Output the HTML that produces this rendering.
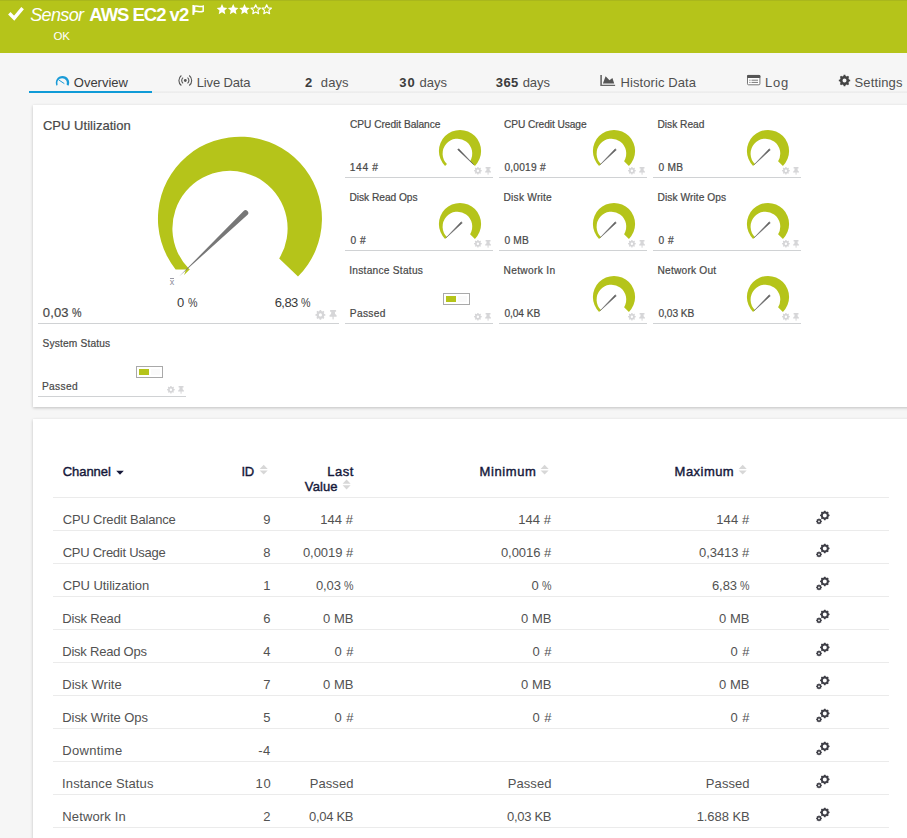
<!DOCTYPE html>
<html><head><meta charset="utf-8"><title>Sensor AWS EC2 v2</title>
<style>
html,body{margin:0;padding:0}
body{width:907px;height:838px;overflow:hidden;background:#f6f6f6;font-family:"Liberation Sans", sans-serif;position:relative}
.t{position:absolute;white-space:pre}
#hdr{position:absolute;left:0;top:0;width:907px;height:53px;background:#b5c41a;border-top:1px solid #a9b71c;box-sizing:border-box}
#tabline{position:absolute;left:30px;top:91px;width:877px;height:2px;background:linear-gradient(#f0f0f0,#ebebeb)}
#tabact{position:absolute;left:29px;top:91px;width:123px;height:2px;background:#0f9bd7}
.panel{position:absolute;left:33px;width:900px;background:#fff;box-shadow:0 1px 3px rgba(0,0,0,.22)}
#p1{top:105px;height:302px}
#p2{top:419px;height:440px}
.ul{position:absolute;height:1px;background:#d0d2d4}
.rl{position:absolute;left:53px;width:836px;height:1px;background:#ebebeb}
.sb{position:absolute;width:27px;height:12px;box-sizing:border-box;border:1px solid #a9a9a9;background:#fff}
.sb i{position:absolute;left:2px;top:2px;width:10px;height:6px;background:#b5c41a}
.sb b{position:absolute;left:14px;top:2px;width:9px;height:6px;background:#fafafa}
svg{position:absolute;left:0;top:0}
</style></head><body>
<div id="hdr"></div>
<div id="tabline"></div><div id="tabact"></div>
<div class="panel" id="p1"></div>
<div class="panel" id="p2"></div>
<div class="ul" style="left:38px;top:323px;width:301px"></div><div class="ul" style="left:345px;top:177px;width:148px"></div><div class="ul" style="left:345px;top:250px;width:148px"></div><div class="ul" style="left:345px;top:323px;width:148px"></div><div class="ul" style="left:499px;top:177px;width:148px"></div><div class="ul" style="left:499px;top:250px;width:148px"></div><div class="ul" style="left:499px;top:323px;width:148px"></div><div class="ul" style="left:653px;top:177px;width:148px"></div><div class="ul" style="left:653px;top:250px;width:148px"></div><div class="ul" style="left:653px;top:323px;width:148px"></div><div class="ul" style="left:38px;top:396px;width:148px"></div>
<div class="rl" style="top:497px"></div><div class="rl" style="top:530px"></div><div class="rl" style="top:563px"></div><div class="rl" style="top:596px"></div><div class="rl" style="top:629px"></div><div class="rl" style="top:662px"></div><div class="rl" style="top:695px"></div><div class="rl" style="top:728px"></div><div class="rl" style="top:761px"></div><div class="rl" style="top:794px"></div><div class="rl" style="top:827px"></div>
<div class="sb" style="left:443px;top:293px"><i></i><b></b></div><div class="sb" style="left:136px;top:366px"><i></i><b></b></div>
<svg width="907" height="838" viewBox="0 0 907 838">
<path d="M9.3 13.3 L14.2 18.2 L22.6 8.2" fill="none" stroke="#fff" stroke-width="3.4"/><path d="M193.4 5 V14.9" stroke="#fff" stroke-width="2"/><path d="M194.6 6.3 C197 5.2 199 7.6 203.2 6.1 V11.3 C199 12.8 197 10.4 194.6 11.6 Z" fill="none" stroke="#fff" stroke-width="1.5"/><polygon points="222.00,4.10 223.55,7.57 227.33,7.97 224.50,10.51 225.29,14.23 222.00,12.33 218.71,14.23 219.50,10.51 216.67,7.97 220.45,7.57" fill="#fff"/><polygon points="233.20,4.10 234.75,7.57 238.53,7.97 235.70,10.51 236.49,14.23 233.20,12.33 229.91,14.23 230.70,10.51 227.87,7.97 231.65,7.57" fill="#fff"/><polygon points="244.50,4.10 246.05,7.57 249.83,7.97 247.00,10.51 247.79,14.23 244.50,12.33 241.21,14.23 242.00,10.51 239.17,7.97 242.95,7.57" fill="#fff"/><polygon points="255.70,4.80 257.05,7.84 260.36,8.19 257.89,10.41 258.58,13.66 255.70,12.00 252.82,13.66 253.51,10.41 251.04,8.19 254.35,7.84" fill="none" stroke="#fff" stroke-width="1.2" stroke-linejoin="round"/><polygon points="266.70,4.80 268.05,7.84 271.36,8.19 268.89,10.41 269.58,13.66 266.70,12.00 263.82,13.66 264.51,10.41 262.04,8.19 265.35,7.84" fill="none" stroke="#fff" stroke-width="1.2" stroke-linejoin="round"/>
<path d="M56.58 85.75 A6.7 6.7 0 1 1 68.42 85.75 L66.69 84.82 A4.9 4.9 0 1 0 57.57 84.90 Z" fill="#1a9bd7"/><path d="M58.9 80 L64 83.4" stroke="#1a9bd7" stroke-width="1" stroke-linecap="round"/><circle cx="185.3" cy="80.5" r="1.4" fill="#555"/><path d="M187.52 77.66 A3.6 3.6 0 0 1 187.52 83.34" fill="none" stroke="#555" stroke-width="1.1"/><path d="M183.08 77.66 A3.6 3.6 0 0 0 183.08 83.34" fill="none" stroke="#555" stroke-width="1.1"/><path d="M189.24 75.46 A6.4 6.4 0 0 1 189.24 85.54" fill="none" stroke="#555" stroke-width="1.1"/><path d="M181.36 75.46 A6.4 6.4 0 0 0 181.36 85.54" fill="none" stroke="#555" stroke-width="1.1"/><path d="M600.3 74.9h1.6v9.9h13.2v1.1h-14.8z" fill="#666"/><path d="M602.9 83.6 L605.6 76.2 L609.5 80.3 L612.4 77.9 L614.2 83.6 Z" fill="#555"/><rect x="747.5" y="75.4" width="12.4" height="9.4" rx="1" fill="#fff" stroke="#777" stroke-width="1"/><rect x="747" y="74.9" width="13.4" height="3.2" rx="1" fill="#555"/><path d="M749.3 80.2h1.2M751.5 80.2h6.5M749.3 82.4h1.2M751.5 82.4h6.5" stroke="#777" stroke-width="1"/><path d="M848.75 78.74 L848.97 79.43 L850.18 79.64 L850.18 81.36 L848.97 81.57 L848.75 82.26 L848.42 82.90 L849.13 83.91 L847.91 85.13 L846.90 84.42 L846.26 84.75 L845.57 84.97 L845.36 86.18 L843.64 86.18 L843.43 84.97 L842.74 84.75 L842.10 84.42 L841.09 85.13 L839.87 83.91 L840.58 82.90 L840.25 82.26 L840.03 81.57 L838.82 81.36 L838.82 79.64 L840.03 79.43 L840.25 78.74 L840.58 78.10 L839.87 77.09 L841.09 75.87 L842.10 76.58 L842.74 76.25 L843.43 76.03 L843.64 74.82 L845.36 74.82 L845.57 76.03 L846.26 76.25 L846.90 76.58 L847.91 75.87 L849.13 77.09 L848.42 78.10Z M846.50 80.50 A2.0 2.0 0 1 0 842.50 80.50 A2.0 2.0 0 1 0 846.50 80.50Z" fill="#444" fill-rule="evenodd"/>
<g transform="translate(240 218.6) scale(1) translate(-240 -218.6)"><path d="M175.6 269.5 A82 82 0 1 1 298 276.6 L279.2 258.4 A57.6 57.6 0 1 0 189.6 269.5 Z" fill="#b5c41a"/><path d="M184.1 275 L189.9 269.3 L186.3 268.7 Z" fill="#b5c41a"/></g><path d="M178.8 276.8 L243.6 210.9 A2.8 2.8 0 0 1 247.6 214.8 Z" fill="#777"/><g transform="translate(460 151) scale(0.2573170731707317) translate(-240 -218.6)"><path d="M182 276.6 A82 82 0 1 1 298 276.6 L279.2 258.4 A57.6 57.6 0 1 0 189.3 269.3 Z" fill="#b5c41a"/></g><path d="M473.6 164.6 L457.7 149.7 L458.7 148.7 Z" fill="#5a5a5a" stroke="#5a5a5a" stroke-width="0.5" stroke-linejoin="round"/><g transform="translate(614 151) scale(0.2573170731707317) translate(-240 -218.6)"><path d="M182 276.6 A82 82 0 1 1 298 276.6 L279.2 258.4 A57.6 57.6 0 1 0 189.3 269.3 Z" fill="#b5c41a"/></g><path d="M600.1 164.8 L615.2 148.8 L616.3 149.9 Z" fill="#666" stroke="#666" stroke-width="0.5" stroke-linejoin="round"/><g transform="translate(768 151) scale(0.2573170731707317) translate(-240 -218.6)"><path d="M182 276.6 A82 82 0 1 1 298 276.6 L279.2 258.4 A57.6 57.6 0 1 0 189.3 269.3 Z" fill="#b5c41a"/></g><path d="M754.1 164.8 L769.2 148.8 L770.3 149.9 Z" fill="#666" stroke="#666" stroke-width="0.5" stroke-linejoin="round"/><g transform="translate(460 224) scale(0.2573170731707317) translate(-240 -218.6)"><path d="M182 276.6 A82 82 0 1 1 298 276.6 L279.2 258.4 A57.6 57.6 0 1 0 189.3 269.3 Z" fill="#b5c41a"/></g><path d="M446.1 237.8 L461.2 221.8 L462.3 222.9 Z" fill="#666" stroke="#666" stroke-width="0.5" stroke-linejoin="round"/><g transform="translate(614 224) scale(0.2573170731707317) translate(-240 -218.6)"><path d="M182 276.6 A82 82 0 1 1 298 276.6 L279.2 258.4 A57.6 57.6 0 1 0 189.3 269.3 Z" fill="#b5c41a"/></g><path d="M600.1 237.8 L615.2 221.8 L616.3 222.9 Z" fill="#666" stroke="#666" stroke-width="0.5" stroke-linejoin="round"/><g transform="translate(768 224) scale(0.2573170731707317) translate(-240 -218.6)"><path d="M182 276.6 A82 82 0 1 1 298 276.6 L279.2 258.4 A57.6 57.6 0 1 0 189.3 269.3 Z" fill="#b5c41a"/></g><path d="M754.1 237.8 L769.2 221.8 L770.3 222.9 Z" fill="#666" stroke="#666" stroke-width="0.5" stroke-linejoin="round"/><g transform="translate(614 297) scale(0.2573170731707317) translate(-240 -218.6)"><path d="M182 276.6 A82 82 0 1 1 298 276.6 L279.2 258.4 A57.6 57.6 0 1 0 189.3 269.3 Z" fill="#b5c41a"/></g><path d="M600.1 310.8 L615.2 294.8 L616.3 295.9 Z" fill="#666" stroke="#666" stroke-width="0.5" stroke-linejoin="round"/><g transform="translate(768 297) scale(0.2573170731707317) translate(-240 -218.6)"><path d="M182 276.6 A82 82 0 1 1 298 276.6 L279.2 258.4 A57.6 57.6 0 1 0 189.3 269.3 Z" fill="#b5c41a"/></g><path d="M754.1 310.8 L769.2 294.8 L770.3 295.9 Z" fill="#666" stroke="#666" stroke-width="0.5" stroke-linejoin="round"/><path d="M324.00 313.41 L324.19 313.99 L325.34 314.15 L325.34 315.65 L324.19 315.81 L324.00 316.39 L323.73 316.94 L324.43 317.86 L323.36 318.93 L322.44 318.23 L321.89 318.50 L321.31 318.69 L321.15 319.84 L319.65 319.84 L319.49 318.69 L318.91 318.50 L318.36 318.23 L317.44 318.93 L316.37 317.86 L317.07 316.94 L316.80 316.39 L316.61 315.81 L315.46 315.65 L315.46 314.15 L316.61 313.99 L316.80 313.41 L317.07 312.86 L316.37 311.94 L317.44 310.87 L318.36 311.57 L318.91 311.30 L319.49 311.11 L319.65 309.96 L321.15 309.96 L321.31 311.11 L321.89 311.30 L322.44 311.57 L323.36 310.87 L324.43 311.94 L323.73 312.86Z M322.00 314.90 A1.6 1.6 0 1 0 318.80 314.90 A1.6 1.6 0 1 0 322.00 314.90Z" fill="#d6d6d8" fill-rule="evenodd"/><path transform="translate(329.4 310) scale(0.019140625)" d="M298.028 214.267L285.793 96H328c13.255 0 24-10.745 24-24V24c0-13.255-10.745-24-24-24H56C42.745 0 32 10.745 32 24v48c0 13.255 10.745 24 24 24h42.207L85.972 214.267C37.465 236.820 0 277.261 0 328c0 13.255 10.745 24 24 24h136v104.007c0 1.242.289 2.467.845 3.578l24 48c2.941 5.882 11.364 5.893 14.311 0l24-48a8.008 8.008 0 0 0 .845-3.578V352h136c13.255 0 24-10.745 24-24-.001-51.183-37.983-91.420-85.973-113.733z" fill="#d6d6d8"/><path d="M480.67 169.55 L480.82 170.00 L481.71 170.12 L481.71 171.28 L480.82 171.40 L480.67 171.85 L480.46 172.27 L481.00 172.98 L480.18 173.80 L479.47 173.26 L479.05 173.47 L478.60 173.62 L478.48 174.51 L477.32 174.51 L477.20 173.62 L476.75 173.47 L476.33 173.26 L475.62 173.80 L474.80 172.98 L475.34 172.27 L475.13 171.85 L474.98 171.40 L474.09 171.28 L474.09 170.12 L474.98 170.00 L475.13 169.55 L475.34 169.13 L474.80 168.42 L475.62 167.60 L476.33 168.14 L476.75 167.93 L477.20 167.78 L477.32 166.89 L478.48 166.89 L478.60 167.78 L479.05 167.93 L479.47 168.14 L480.18 167.60 L481.00 168.42 L480.46 169.13Z M479.10 170.70 A1.2 1.2 0 1 0 476.70 170.70 A1.2 1.2 0 1 0 479.10 170.70Z" fill="#d6d6d8" fill-rule="evenodd"/><path transform="translate(485.1 167.1) scale(0.0154296875)" d="M298.028 214.267L285.793 96H328c13.255 0 24-10.745 24-24V24c0-13.255-10.745-24-24-24H56C42.745 0 32 10.745 32 24v48c0 13.255 10.745 24 24 24h42.207L85.972 214.267C37.465 236.820 0 277.261 0 328c0 13.255 10.745 24 24 24h136v104.007c0 1.242.289 2.467.845 3.578l24 48c2.941 5.882 11.364 5.893 14.311 0l24-48a8.008 8.008 0 0 0 .845-3.578V352h136c13.255 0 24-10.745 24-24-.001-51.183-37.983-91.420-85.973-113.733z" fill="#d6d6d8"/><path d="M480.67 242.55 L480.82 243.00 L481.71 243.12 L481.71 244.28 L480.82 244.40 L480.67 244.85 L480.46 245.27 L481.00 245.98 L480.18 246.80 L479.47 246.26 L479.05 246.47 L478.60 246.62 L478.48 247.51 L477.32 247.51 L477.20 246.62 L476.75 246.47 L476.33 246.26 L475.62 246.80 L474.80 245.98 L475.34 245.27 L475.13 244.85 L474.98 244.40 L474.09 244.28 L474.09 243.12 L474.98 243.00 L475.13 242.55 L475.34 242.13 L474.80 241.42 L475.62 240.60 L476.33 241.14 L476.75 240.93 L477.20 240.78 L477.32 239.89 L478.48 239.89 L478.60 240.78 L479.05 240.93 L479.47 241.14 L480.18 240.60 L481.00 241.42 L480.46 242.13Z M479.10 243.70 A1.2 1.2 0 1 0 476.70 243.70 A1.2 1.2 0 1 0 479.10 243.70Z" fill="#d6d6d8" fill-rule="evenodd"/><path transform="translate(485.1 240.1) scale(0.0154296875)" d="M298.028 214.267L285.793 96H328c13.255 0 24-10.745 24-24V24c0-13.255-10.745-24-24-24H56C42.745 0 32 10.745 32 24v48c0 13.255 10.745 24 24 24h42.207L85.972 214.267C37.465 236.820 0 277.261 0 328c0 13.255 10.745 24 24 24h136v104.007c0 1.242.289 2.467.845 3.578l24 48c2.941 5.882 11.364 5.893 14.311 0l24-48a8.008 8.008 0 0 0 .845-3.578V352h136c13.255 0 24-10.745 24-24-.001-51.183-37.983-91.420-85.973-113.733z" fill="#d6d6d8"/><path d="M480.67 315.55 L480.82 316.00 L481.71 316.12 L481.71 317.28 L480.82 317.40 L480.67 317.85 L480.46 318.27 L481.00 318.98 L480.18 319.80 L479.47 319.26 L479.05 319.47 L478.60 319.62 L478.48 320.51 L477.32 320.51 L477.20 319.62 L476.75 319.47 L476.33 319.26 L475.62 319.80 L474.80 318.98 L475.34 318.27 L475.13 317.85 L474.98 317.40 L474.09 317.28 L474.09 316.12 L474.98 316.00 L475.13 315.55 L475.34 315.13 L474.80 314.42 L475.62 313.60 L476.33 314.14 L476.75 313.93 L477.20 313.78 L477.32 312.89 L478.48 312.89 L478.60 313.78 L479.05 313.93 L479.47 314.14 L480.18 313.60 L481.00 314.42 L480.46 315.13Z M479.10 316.70 A1.2 1.2 0 1 0 476.70 316.70 A1.2 1.2 0 1 0 479.10 316.70Z" fill="#d6d6d8" fill-rule="evenodd"/><path transform="translate(485.1 313.1) scale(0.0154296875)" d="M298.028 214.267L285.793 96H328c13.255 0 24-10.745 24-24V24c0-13.255-10.745-24-24-24H56C42.745 0 32 10.745 32 24v48c0 13.255 10.745 24 24 24h42.207L85.972 214.267C37.465 236.820 0 277.261 0 328c0 13.255 10.745 24 24 24h136v104.007c0 1.242.289 2.467.845 3.578l24 48c2.941 5.882 11.364 5.893 14.311 0l24-48a8.008 8.008 0 0 0 .845-3.578V352h136c13.255 0 24-10.745 24-24-.001-51.183-37.983-91.420-85.973-113.733z" fill="#d6d6d8"/><path d="M634.67 169.55 L634.82 170.00 L635.71 170.12 L635.71 171.28 L634.82 171.40 L634.67 171.85 L634.46 172.27 L635.00 172.98 L634.18 173.80 L633.47 173.26 L633.05 173.47 L632.60 173.62 L632.48 174.51 L631.32 174.51 L631.20 173.62 L630.75 173.47 L630.33 173.26 L629.62 173.80 L628.80 172.98 L629.34 172.27 L629.13 171.85 L628.98 171.40 L628.09 171.28 L628.09 170.12 L628.98 170.00 L629.13 169.55 L629.34 169.13 L628.80 168.42 L629.62 167.60 L630.33 168.14 L630.75 167.93 L631.20 167.78 L631.32 166.89 L632.48 166.89 L632.60 167.78 L633.05 167.93 L633.47 168.14 L634.18 167.60 L635.00 168.42 L634.46 169.13Z M633.10 170.70 A1.2 1.2 0 1 0 630.70 170.70 A1.2 1.2 0 1 0 633.10 170.70Z" fill="#d6d6d8" fill-rule="evenodd"/><path transform="translate(639.1 167.1) scale(0.0154296875)" d="M298.028 214.267L285.793 96H328c13.255 0 24-10.745 24-24V24c0-13.255-10.745-24-24-24H56C42.745 0 32 10.745 32 24v48c0 13.255 10.745 24 24 24h42.207L85.972 214.267C37.465 236.820 0 277.261 0 328c0 13.255 10.745 24 24 24h136v104.007c0 1.242.289 2.467.845 3.578l24 48c2.941 5.882 11.364 5.893 14.311 0l24-48a8.008 8.008 0 0 0 .845-3.578V352h136c13.255 0 24-10.745 24-24-.001-51.183-37.983-91.420-85.973-113.733z" fill="#d6d6d8"/><path d="M634.67 242.55 L634.82 243.00 L635.71 243.12 L635.71 244.28 L634.82 244.40 L634.67 244.85 L634.46 245.27 L635.00 245.98 L634.18 246.80 L633.47 246.26 L633.05 246.47 L632.60 246.62 L632.48 247.51 L631.32 247.51 L631.20 246.62 L630.75 246.47 L630.33 246.26 L629.62 246.80 L628.80 245.98 L629.34 245.27 L629.13 244.85 L628.98 244.40 L628.09 244.28 L628.09 243.12 L628.98 243.00 L629.13 242.55 L629.34 242.13 L628.80 241.42 L629.62 240.60 L630.33 241.14 L630.75 240.93 L631.20 240.78 L631.32 239.89 L632.48 239.89 L632.60 240.78 L633.05 240.93 L633.47 241.14 L634.18 240.60 L635.00 241.42 L634.46 242.13Z M633.10 243.70 A1.2 1.2 0 1 0 630.70 243.70 A1.2 1.2 0 1 0 633.10 243.70Z" fill="#d6d6d8" fill-rule="evenodd"/><path transform="translate(639.1 240.1) scale(0.0154296875)" d="M298.028 214.267L285.793 96H328c13.255 0 24-10.745 24-24V24c0-13.255-10.745-24-24-24H56C42.745 0 32 10.745 32 24v48c0 13.255 10.745 24 24 24h42.207L85.972 214.267C37.465 236.820 0 277.261 0 328c0 13.255 10.745 24 24 24h136v104.007c0 1.242.289 2.467.845 3.578l24 48c2.941 5.882 11.364 5.893 14.311 0l24-48a8.008 8.008 0 0 0 .845-3.578V352h136c13.255 0 24-10.745 24-24-.001-51.183-37.983-91.420-85.973-113.733z" fill="#d6d6d8"/><path d="M634.67 315.55 L634.82 316.00 L635.71 316.12 L635.71 317.28 L634.82 317.40 L634.67 317.85 L634.46 318.27 L635.00 318.98 L634.18 319.80 L633.47 319.26 L633.05 319.47 L632.60 319.62 L632.48 320.51 L631.32 320.51 L631.20 319.62 L630.75 319.47 L630.33 319.26 L629.62 319.80 L628.80 318.98 L629.34 318.27 L629.13 317.85 L628.98 317.40 L628.09 317.28 L628.09 316.12 L628.98 316.00 L629.13 315.55 L629.34 315.13 L628.80 314.42 L629.62 313.60 L630.33 314.14 L630.75 313.93 L631.20 313.78 L631.32 312.89 L632.48 312.89 L632.60 313.78 L633.05 313.93 L633.47 314.14 L634.18 313.60 L635.00 314.42 L634.46 315.13Z M633.10 316.70 A1.2 1.2 0 1 0 630.70 316.70 A1.2 1.2 0 1 0 633.10 316.70Z" fill="#d6d6d8" fill-rule="evenodd"/><path transform="translate(639.1 313.1) scale(0.0154296875)" d="M298.028 214.267L285.793 96H328c13.255 0 24-10.745 24-24V24c0-13.255-10.745-24-24-24H56C42.745 0 32 10.745 32 24v48c0 13.255 10.745 24 24 24h42.207L85.972 214.267C37.465 236.820 0 277.261 0 328c0 13.255 10.745 24 24 24h136v104.007c0 1.242.289 2.467.845 3.578l24 48c2.941 5.882 11.364 5.893 14.311 0l24-48a8.008 8.008 0 0 0 .845-3.578V352h136c13.255 0 24-10.745 24-24-.001-51.183-37.983-91.420-85.973-113.733z" fill="#d6d6d8"/><path d="M788.67 169.55 L788.82 170.00 L789.71 170.12 L789.71 171.28 L788.82 171.40 L788.67 171.85 L788.46 172.27 L789.00 172.98 L788.18 173.80 L787.47 173.26 L787.05 173.47 L786.60 173.62 L786.48 174.51 L785.32 174.51 L785.20 173.62 L784.75 173.47 L784.33 173.26 L783.62 173.80 L782.80 172.98 L783.34 172.27 L783.13 171.85 L782.98 171.40 L782.09 171.28 L782.09 170.12 L782.98 170.00 L783.13 169.55 L783.34 169.13 L782.80 168.42 L783.62 167.60 L784.33 168.14 L784.75 167.93 L785.20 167.78 L785.32 166.89 L786.48 166.89 L786.60 167.78 L787.05 167.93 L787.47 168.14 L788.18 167.60 L789.00 168.42 L788.46 169.13Z M787.10 170.70 A1.2 1.2 0 1 0 784.70 170.70 A1.2 1.2 0 1 0 787.10 170.70Z" fill="#d6d6d8" fill-rule="evenodd"/><path transform="translate(793.1 167.1) scale(0.0154296875)" d="M298.028 214.267L285.793 96H328c13.255 0 24-10.745 24-24V24c0-13.255-10.745-24-24-24H56C42.745 0 32 10.745 32 24v48c0 13.255 10.745 24 24 24h42.207L85.972 214.267C37.465 236.820 0 277.261 0 328c0 13.255 10.745 24 24 24h136v104.007c0 1.242.289 2.467.845 3.578l24 48c2.941 5.882 11.364 5.893 14.311 0l24-48a8.008 8.008 0 0 0 .845-3.578V352h136c13.255 0 24-10.745 24-24-.001-51.183-37.983-91.420-85.973-113.733z" fill="#d6d6d8"/><path d="M788.67 242.55 L788.82 243.00 L789.71 243.12 L789.71 244.28 L788.82 244.40 L788.67 244.85 L788.46 245.27 L789.00 245.98 L788.18 246.80 L787.47 246.26 L787.05 246.47 L786.60 246.62 L786.48 247.51 L785.32 247.51 L785.20 246.62 L784.75 246.47 L784.33 246.26 L783.62 246.80 L782.80 245.98 L783.34 245.27 L783.13 244.85 L782.98 244.40 L782.09 244.28 L782.09 243.12 L782.98 243.00 L783.13 242.55 L783.34 242.13 L782.80 241.42 L783.62 240.60 L784.33 241.14 L784.75 240.93 L785.20 240.78 L785.32 239.89 L786.48 239.89 L786.60 240.78 L787.05 240.93 L787.47 241.14 L788.18 240.60 L789.00 241.42 L788.46 242.13Z M787.10 243.70 A1.2 1.2 0 1 0 784.70 243.70 A1.2 1.2 0 1 0 787.10 243.70Z" fill="#d6d6d8" fill-rule="evenodd"/><path transform="translate(793.1 240.1) scale(0.0154296875)" d="M298.028 214.267L285.793 96H328c13.255 0 24-10.745 24-24V24c0-13.255-10.745-24-24-24H56C42.745 0 32 10.745 32 24v48c0 13.255 10.745 24 24 24h42.207L85.972 214.267C37.465 236.820 0 277.261 0 328c0 13.255 10.745 24 24 24h136v104.007c0 1.242.289 2.467.845 3.578l24 48c2.941 5.882 11.364 5.893 14.311 0l24-48a8.008 8.008 0 0 0 .845-3.578V352h136c13.255 0 24-10.745 24-24-.001-51.183-37.983-91.420-85.973-113.733z" fill="#d6d6d8"/><path d="M788.67 315.55 L788.82 316.00 L789.71 316.12 L789.71 317.28 L788.82 317.40 L788.67 317.85 L788.46 318.27 L789.00 318.98 L788.18 319.80 L787.47 319.26 L787.05 319.47 L786.60 319.62 L786.48 320.51 L785.32 320.51 L785.20 319.62 L784.75 319.47 L784.33 319.26 L783.62 319.80 L782.80 318.98 L783.34 318.27 L783.13 317.85 L782.98 317.40 L782.09 317.28 L782.09 316.12 L782.98 316.00 L783.13 315.55 L783.34 315.13 L782.80 314.42 L783.62 313.60 L784.33 314.14 L784.75 313.93 L785.20 313.78 L785.32 312.89 L786.48 312.89 L786.60 313.78 L787.05 313.93 L787.47 314.14 L788.18 313.60 L789.00 314.42 L788.46 315.13Z M787.10 316.70 A1.2 1.2 0 1 0 784.70 316.70 A1.2 1.2 0 1 0 787.10 316.70Z" fill="#d6d6d8" fill-rule="evenodd"/><path transform="translate(793.1 313.1) scale(0.0154296875)" d="M298.028 214.267L285.793 96H328c13.255 0 24-10.745 24-24V24c0-13.255-10.745-24-24-24H56C42.745 0 32 10.745 32 24v48c0 13.255 10.745 24 24 24h42.207L85.972 214.267C37.465 236.820 0 277.261 0 328c0 13.255 10.745 24 24 24h136v104.007c0 1.242.289 2.467.845 3.578l24 48c2.941 5.882 11.364 5.893 14.311 0l24-48a8.008 8.008 0 0 0 .845-3.578V352h136c13.255 0 24-10.745 24-24-.001-51.183-37.983-91.420-85.973-113.733z" fill="#d6d6d8"/><path d="M173.67 388.55 L173.82 389.00 L174.71 389.12 L174.71 390.28 L173.82 390.40 L173.67 390.85 L173.46 391.27 L174.00 391.98 L173.18 392.80 L172.47 392.26 L172.05 392.47 L171.60 392.62 L171.48 393.51 L170.32 393.51 L170.20 392.62 L169.75 392.47 L169.33 392.26 L168.62 392.80 L167.80 391.98 L168.34 391.27 L168.13 390.85 L167.98 390.40 L167.09 390.28 L167.09 389.12 L167.98 389.00 L168.13 388.55 L168.34 388.13 L167.80 387.42 L168.62 386.60 L169.33 387.14 L169.75 386.93 L170.20 386.78 L170.32 385.89 L171.48 385.89 L171.60 386.78 L172.05 386.93 L172.47 387.14 L173.18 386.60 L174.00 387.42 L173.46 388.13Z M172.10 389.70 A1.2 1.2 0 1 0 169.70 389.70 A1.2 1.2 0 1 0 172.10 389.70Z" fill="#d6d6d8" fill-rule="evenodd"/><path transform="translate(178.1 386.1) scale(0.0154296875)" d="M298.028 214.267L285.793 96H328c13.255 0 24-10.745 24-24V24c0-13.255-10.745-24-24-24H56C42.745 0 32 10.745 32 24v48c0 13.255 10.745 24 24 24h42.207L85.972 214.267C37.465 236.820 0 277.261 0 328c0 13.255 10.745 24 24 24h136v104.007c0 1.242.289 2.467.845 3.578l24 48c2.941 5.882 11.364 5.893 14.311 0l24-48a8.008 8.008 0 0 0 .845-3.578V352h136c13.255 0 24-10.745 24-24-.001-51.183-37.983-91.420-85.973-113.733z" fill="#d6d6d8"/>
<path d="M116.2 470.8h7.6l-3.8 4z" fill="#15183a"/><path d="M259.7 469l4-4.2 4 4.2z" fill="#d7d7d7"/><path d="M259.7 470.4l4 4.2 4-4.2z" fill="#d7d7d7"/><path d="M342.6 483.8l4-4.2 4 4.2z" fill="#d7d7d7"/><path d="M342.6 485.2l4 4.2 4-4.2z" fill="#d7d7d7"/><path d="M540.6 469l4-4.2 4 4.2z" fill="#d7d7d7"/><path d="M540.6 470.4l4 4.2 4-4.2z" fill="#d7d7d7"/><path d="M738.7 469l4-4.2 4 4.2z" fill="#d7d7d7"/><path d="M738.7 470.4l4 4.2 4-4.2z" fill="#d7d7d7"/><path d="M828.54 513.85 L828.74 514.45 L829.55 514.68 L829.55 516.12 L828.74 516.35 L828.54 516.95 L828.25 517.52 L828.67 518.25 L827.65 519.27 L826.92 518.85 L826.35 519.14 L825.75 519.34 L825.52 520.15 L824.08 520.15 L823.85 519.34 L823.25 519.14 L822.68 518.85 L821.95 519.27 L820.93 518.25 L821.35 517.52 L821.06 516.95 L820.86 516.35 L820.05 516.12 L820.05 514.68 L820.86 514.45 L821.06 513.85 L821.35 513.28 L820.93 512.55 L821.95 511.53 L822.68 511.95 L823.25 511.66 L823.85 511.46 L824.08 510.65 L825.52 510.65 L825.75 511.46 L826.35 511.66 L826.92 511.95 L827.65 511.53 L828.67 512.55 L828.25 513.28Z M826.80 515.40 A2.0 2.0 0 1 0 822.80 515.40 A2.0 2.0 0 1 0 826.80 515.40Z" fill="#3e3e46" fill-rule="evenodd"/><path d="M821.26 520.46 L821.38 520.83 L821.92 520.96 L821.92 521.84 L821.38 521.97 L821.26 522.34 L821.09 522.68 L821.38 523.15 L820.75 523.78 L820.28 523.49 L819.94 523.66 L819.57 523.78 L819.44 524.32 L818.56 524.32 L818.43 523.78 L818.06 523.66 L817.72 523.49 L817.25 523.78 L816.62 523.15 L816.91 522.68 L816.74 522.34 L816.62 521.97 L816.08 521.84 L816.08 520.96 L816.62 520.83 L816.74 520.46 L816.91 520.12 L816.62 519.65 L817.25 519.02 L817.72 519.31 L818.06 519.14 L818.43 519.02 L818.56 518.48 L819.44 518.48 L819.57 519.02 L819.94 519.14 L820.28 519.31 L820.75 519.02 L821.38 519.65 L821.09 520.12Z M819.85 521.40 A0.85 0.85 0 1 0 818.15 521.40 A0.85 0.85 0 1 0 819.85 521.40Z" fill="#3e3e46" fill-rule="evenodd"/><path d="M828.54 546.85 L828.74 547.45 L829.55 547.68 L829.55 549.12 L828.74 549.35 L828.54 549.95 L828.25 550.52 L828.67 551.25 L827.65 552.27 L826.92 551.85 L826.35 552.14 L825.75 552.34 L825.52 553.15 L824.08 553.15 L823.85 552.34 L823.25 552.14 L822.68 551.85 L821.95 552.27 L820.93 551.25 L821.35 550.52 L821.06 549.95 L820.86 549.35 L820.05 549.12 L820.05 547.68 L820.86 547.45 L821.06 546.85 L821.35 546.28 L820.93 545.55 L821.95 544.53 L822.68 544.95 L823.25 544.66 L823.85 544.46 L824.08 543.65 L825.52 543.65 L825.75 544.46 L826.35 544.66 L826.92 544.95 L827.65 544.53 L828.67 545.55 L828.25 546.28Z M826.80 548.40 A2.0 2.0 0 1 0 822.80 548.40 A2.0 2.0 0 1 0 826.80 548.40Z" fill="#3e3e46" fill-rule="evenodd"/><path d="M821.26 553.46 L821.38 553.83 L821.92 553.96 L821.92 554.84 L821.38 554.97 L821.26 555.34 L821.09 555.68 L821.38 556.15 L820.75 556.78 L820.28 556.49 L819.94 556.66 L819.57 556.78 L819.44 557.32 L818.56 557.32 L818.43 556.78 L818.06 556.66 L817.72 556.49 L817.25 556.78 L816.62 556.15 L816.91 555.68 L816.74 555.34 L816.62 554.97 L816.08 554.84 L816.08 553.96 L816.62 553.83 L816.74 553.46 L816.91 553.12 L816.62 552.65 L817.25 552.02 L817.72 552.31 L818.06 552.14 L818.43 552.02 L818.56 551.48 L819.44 551.48 L819.57 552.02 L819.94 552.14 L820.28 552.31 L820.75 552.02 L821.38 552.65 L821.09 553.12Z M819.85 554.40 A0.85 0.85 0 1 0 818.15 554.40 A0.85 0.85 0 1 0 819.85 554.40Z" fill="#3e3e46" fill-rule="evenodd"/><path d="M828.54 579.85 L828.74 580.45 L829.55 580.68 L829.55 582.12 L828.74 582.35 L828.54 582.95 L828.25 583.52 L828.67 584.25 L827.65 585.27 L826.92 584.85 L826.35 585.14 L825.75 585.34 L825.52 586.15 L824.08 586.15 L823.85 585.34 L823.25 585.14 L822.68 584.85 L821.95 585.27 L820.93 584.25 L821.35 583.52 L821.06 582.95 L820.86 582.35 L820.05 582.12 L820.05 580.68 L820.86 580.45 L821.06 579.85 L821.35 579.28 L820.93 578.55 L821.95 577.53 L822.68 577.95 L823.25 577.66 L823.85 577.46 L824.08 576.65 L825.52 576.65 L825.75 577.46 L826.35 577.66 L826.92 577.95 L827.65 577.53 L828.67 578.55 L828.25 579.28Z M826.80 581.40 A2.0 2.0 0 1 0 822.80 581.40 A2.0 2.0 0 1 0 826.80 581.40Z" fill="#3e3e46" fill-rule="evenodd"/><path d="M821.26 586.46 L821.38 586.83 L821.92 586.96 L821.92 587.84 L821.38 587.97 L821.26 588.34 L821.09 588.68 L821.38 589.15 L820.75 589.78 L820.28 589.49 L819.94 589.66 L819.57 589.78 L819.44 590.32 L818.56 590.32 L818.43 589.78 L818.06 589.66 L817.72 589.49 L817.25 589.78 L816.62 589.15 L816.91 588.68 L816.74 588.34 L816.62 587.97 L816.08 587.84 L816.08 586.96 L816.62 586.83 L816.74 586.46 L816.91 586.12 L816.62 585.65 L817.25 585.02 L817.72 585.31 L818.06 585.14 L818.43 585.02 L818.56 584.48 L819.44 584.48 L819.57 585.02 L819.94 585.14 L820.28 585.31 L820.75 585.02 L821.38 585.65 L821.09 586.12Z M819.85 587.40 A0.85 0.85 0 1 0 818.15 587.40 A0.85 0.85 0 1 0 819.85 587.40Z" fill="#3e3e46" fill-rule="evenodd"/><path d="M828.54 612.85 L828.74 613.45 L829.55 613.68 L829.55 615.12 L828.74 615.35 L828.54 615.95 L828.25 616.52 L828.67 617.25 L827.65 618.27 L826.92 617.85 L826.35 618.14 L825.75 618.34 L825.52 619.15 L824.08 619.15 L823.85 618.34 L823.25 618.14 L822.68 617.85 L821.95 618.27 L820.93 617.25 L821.35 616.52 L821.06 615.95 L820.86 615.35 L820.05 615.12 L820.05 613.68 L820.86 613.45 L821.06 612.85 L821.35 612.28 L820.93 611.55 L821.95 610.53 L822.68 610.95 L823.25 610.66 L823.85 610.46 L824.08 609.65 L825.52 609.65 L825.75 610.46 L826.35 610.66 L826.92 610.95 L827.65 610.53 L828.67 611.55 L828.25 612.28Z M826.80 614.40 A2.0 2.0 0 1 0 822.80 614.40 A2.0 2.0 0 1 0 826.80 614.40Z" fill="#3e3e46" fill-rule="evenodd"/><path d="M821.26 619.46 L821.38 619.83 L821.92 619.96 L821.92 620.84 L821.38 620.97 L821.26 621.34 L821.09 621.68 L821.38 622.15 L820.75 622.78 L820.28 622.49 L819.94 622.66 L819.57 622.78 L819.44 623.32 L818.56 623.32 L818.43 622.78 L818.06 622.66 L817.72 622.49 L817.25 622.78 L816.62 622.15 L816.91 621.68 L816.74 621.34 L816.62 620.97 L816.08 620.84 L816.08 619.96 L816.62 619.83 L816.74 619.46 L816.91 619.12 L816.62 618.65 L817.25 618.02 L817.72 618.31 L818.06 618.14 L818.43 618.02 L818.56 617.48 L819.44 617.48 L819.57 618.02 L819.94 618.14 L820.28 618.31 L820.75 618.02 L821.38 618.65 L821.09 619.12Z M819.85 620.40 A0.85 0.85 0 1 0 818.15 620.40 A0.85 0.85 0 1 0 819.85 620.40Z" fill="#3e3e46" fill-rule="evenodd"/><path d="M828.54 645.85 L828.74 646.45 L829.55 646.68 L829.55 648.12 L828.74 648.35 L828.54 648.95 L828.25 649.52 L828.67 650.25 L827.65 651.27 L826.92 650.85 L826.35 651.14 L825.75 651.34 L825.52 652.15 L824.08 652.15 L823.85 651.34 L823.25 651.14 L822.68 650.85 L821.95 651.27 L820.93 650.25 L821.35 649.52 L821.06 648.95 L820.86 648.35 L820.05 648.12 L820.05 646.68 L820.86 646.45 L821.06 645.85 L821.35 645.28 L820.93 644.55 L821.95 643.53 L822.68 643.95 L823.25 643.66 L823.85 643.46 L824.08 642.65 L825.52 642.65 L825.75 643.46 L826.35 643.66 L826.92 643.95 L827.65 643.53 L828.67 644.55 L828.25 645.28Z M826.80 647.40 A2.0 2.0 0 1 0 822.80 647.40 A2.0 2.0 0 1 0 826.80 647.40Z" fill="#3e3e46" fill-rule="evenodd"/><path d="M821.26 652.46 L821.38 652.83 L821.92 652.96 L821.92 653.84 L821.38 653.97 L821.26 654.34 L821.09 654.68 L821.38 655.15 L820.75 655.78 L820.28 655.49 L819.94 655.66 L819.57 655.78 L819.44 656.32 L818.56 656.32 L818.43 655.78 L818.06 655.66 L817.72 655.49 L817.25 655.78 L816.62 655.15 L816.91 654.68 L816.74 654.34 L816.62 653.97 L816.08 653.84 L816.08 652.96 L816.62 652.83 L816.74 652.46 L816.91 652.12 L816.62 651.65 L817.25 651.02 L817.72 651.31 L818.06 651.14 L818.43 651.02 L818.56 650.48 L819.44 650.48 L819.57 651.02 L819.94 651.14 L820.28 651.31 L820.75 651.02 L821.38 651.65 L821.09 652.12Z M819.85 653.40 A0.85 0.85 0 1 0 818.15 653.40 A0.85 0.85 0 1 0 819.85 653.40Z" fill="#3e3e46" fill-rule="evenodd"/><path d="M828.54 678.85 L828.74 679.45 L829.55 679.68 L829.55 681.12 L828.74 681.35 L828.54 681.95 L828.25 682.52 L828.67 683.25 L827.65 684.27 L826.92 683.85 L826.35 684.14 L825.75 684.34 L825.52 685.15 L824.08 685.15 L823.85 684.34 L823.25 684.14 L822.68 683.85 L821.95 684.27 L820.93 683.25 L821.35 682.52 L821.06 681.95 L820.86 681.35 L820.05 681.12 L820.05 679.68 L820.86 679.45 L821.06 678.85 L821.35 678.28 L820.93 677.55 L821.95 676.53 L822.68 676.95 L823.25 676.66 L823.85 676.46 L824.08 675.65 L825.52 675.65 L825.75 676.46 L826.35 676.66 L826.92 676.95 L827.65 676.53 L828.67 677.55 L828.25 678.28Z M826.80 680.40 A2.0 2.0 0 1 0 822.80 680.40 A2.0 2.0 0 1 0 826.80 680.40Z" fill="#3e3e46" fill-rule="evenodd"/><path d="M821.26 685.46 L821.38 685.83 L821.92 685.96 L821.92 686.84 L821.38 686.97 L821.26 687.34 L821.09 687.68 L821.38 688.15 L820.75 688.78 L820.28 688.49 L819.94 688.66 L819.57 688.78 L819.44 689.32 L818.56 689.32 L818.43 688.78 L818.06 688.66 L817.72 688.49 L817.25 688.78 L816.62 688.15 L816.91 687.68 L816.74 687.34 L816.62 686.97 L816.08 686.84 L816.08 685.96 L816.62 685.83 L816.74 685.46 L816.91 685.12 L816.62 684.65 L817.25 684.02 L817.72 684.31 L818.06 684.14 L818.43 684.02 L818.56 683.48 L819.44 683.48 L819.57 684.02 L819.94 684.14 L820.28 684.31 L820.75 684.02 L821.38 684.65 L821.09 685.12Z M819.85 686.40 A0.85 0.85 0 1 0 818.15 686.40 A0.85 0.85 0 1 0 819.85 686.40Z" fill="#3e3e46" fill-rule="evenodd"/><path d="M828.54 711.85 L828.74 712.45 L829.55 712.68 L829.55 714.12 L828.74 714.35 L828.54 714.95 L828.25 715.52 L828.67 716.25 L827.65 717.27 L826.92 716.85 L826.35 717.14 L825.75 717.34 L825.52 718.15 L824.08 718.15 L823.85 717.34 L823.25 717.14 L822.68 716.85 L821.95 717.27 L820.93 716.25 L821.35 715.52 L821.06 714.95 L820.86 714.35 L820.05 714.12 L820.05 712.68 L820.86 712.45 L821.06 711.85 L821.35 711.28 L820.93 710.55 L821.95 709.53 L822.68 709.95 L823.25 709.66 L823.85 709.46 L824.08 708.65 L825.52 708.65 L825.75 709.46 L826.35 709.66 L826.92 709.95 L827.65 709.53 L828.67 710.55 L828.25 711.28Z M826.80 713.40 A2.0 2.0 0 1 0 822.80 713.40 A2.0 2.0 0 1 0 826.80 713.40Z" fill="#3e3e46" fill-rule="evenodd"/><path d="M821.26 718.46 L821.38 718.83 L821.92 718.96 L821.92 719.84 L821.38 719.97 L821.26 720.34 L821.09 720.68 L821.38 721.15 L820.75 721.78 L820.28 721.49 L819.94 721.66 L819.57 721.78 L819.44 722.32 L818.56 722.32 L818.43 721.78 L818.06 721.66 L817.72 721.49 L817.25 721.78 L816.62 721.15 L816.91 720.68 L816.74 720.34 L816.62 719.97 L816.08 719.84 L816.08 718.96 L816.62 718.83 L816.74 718.46 L816.91 718.12 L816.62 717.65 L817.25 717.02 L817.72 717.31 L818.06 717.14 L818.43 717.02 L818.56 716.48 L819.44 716.48 L819.57 717.02 L819.94 717.14 L820.28 717.31 L820.75 717.02 L821.38 717.65 L821.09 718.12Z M819.85 719.40 A0.85 0.85 0 1 0 818.15 719.40 A0.85 0.85 0 1 0 819.85 719.40Z" fill="#3e3e46" fill-rule="evenodd"/><path d="M828.54 744.85 L828.74 745.45 L829.55 745.68 L829.55 747.12 L828.74 747.35 L828.54 747.95 L828.25 748.52 L828.67 749.25 L827.65 750.27 L826.92 749.85 L826.35 750.14 L825.75 750.34 L825.52 751.15 L824.08 751.15 L823.85 750.34 L823.25 750.14 L822.68 749.85 L821.95 750.27 L820.93 749.25 L821.35 748.52 L821.06 747.95 L820.86 747.35 L820.05 747.12 L820.05 745.68 L820.86 745.45 L821.06 744.85 L821.35 744.28 L820.93 743.55 L821.95 742.53 L822.68 742.95 L823.25 742.66 L823.85 742.46 L824.08 741.65 L825.52 741.65 L825.75 742.46 L826.35 742.66 L826.92 742.95 L827.65 742.53 L828.67 743.55 L828.25 744.28Z M826.80 746.40 A2.0 2.0 0 1 0 822.80 746.40 A2.0 2.0 0 1 0 826.80 746.40Z" fill="#3e3e46" fill-rule="evenodd"/><path d="M821.26 751.46 L821.38 751.83 L821.92 751.96 L821.92 752.84 L821.38 752.97 L821.26 753.34 L821.09 753.68 L821.38 754.15 L820.75 754.78 L820.28 754.49 L819.94 754.66 L819.57 754.78 L819.44 755.32 L818.56 755.32 L818.43 754.78 L818.06 754.66 L817.72 754.49 L817.25 754.78 L816.62 754.15 L816.91 753.68 L816.74 753.34 L816.62 752.97 L816.08 752.84 L816.08 751.96 L816.62 751.83 L816.74 751.46 L816.91 751.12 L816.62 750.65 L817.25 750.02 L817.72 750.31 L818.06 750.14 L818.43 750.02 L818.56 749.48 L819.44 749.48 L819.57 750.02 L819.94 750.14 L820.28 750.31 L820.75 750.02 L821.38 750.65 L821.09 751.12Z M819.85 752.40 A0.85 0.85 0 1 0 818.15 752.40 A0.85 0.85 0 1 0 819.85 752.40Z" fill="#3e3e46" fill-rule="evenodd"/><path d="M828.54 777.85 L828.74 778.45 L829.55 778.68 L829.55 780.12 L828.74 780.35 L828.54 780.95 L828.25 781.52 L828.67 782.25 L827.65 783.27 L826.92 782.85 L826.35 783.14 L825.75 783.34 L825.52 784.15 L824.08 784.15 L823.85 783.34 L823.25 783.14 L822.68 782.85 L821.95 783.27 L820.93 782.25 L821.35 781.52 L821.06 780.95 L820.86 780.35 L820.05 780.12 L820.05 778.68 L820.86 778.45 L821.06 777.85 L821.35 777.28 L820.93 776.55 L821.95 775.53 L822.68 775.95 L823.25 775.66 L823.85 775.46 L824.08 774.65 L825.52 774.65 L825.75 775.46 L826.35 775.66 L826.92 775.95 L827.65 775.53 L828.67 776.55 L828.25 777.28Z M826.80 779.40 A2.0 2.0 0 1 0 822.80 779.40 A2.0 2.0 0 1 0 826.80 779.40Z" fill="#3e3e46" fill-rule="evenodd"/><path d="M821.26 784.46 L821.38 784.83 L821.92 784.96 L821.92 785.84 L821.38 785.97 L821.26 786.34 L821.09 786.68 L821.38 787.15 L820.75 787.78 L820.28 787.49 L819.94 787.66 L819.57 787.78 L819.44 788.32 L818.56 788.32 L818.43 787.78 L818.06 787.66 L817.72 787.49 L817.25 787.78 L816.62 787.15 L816.91 786.68 L816.74 786.34 L816.62 785.97 L816.08 785.84 L816.08 784.96 L816.62 784.83 L816.74 784.46 L816.91 784.12 L816.62 783.65 L817.25 783.02 L817.72 783.31 L818.06 783.14 L818.43 783.02 L818.56 782.48 L819.44 782.48 L819.57 783.02 L819.94 783.14 L820.28 783.31 L820.75 783.02 L821.38 783.65 L821.09 784.12Z M819.85 785.40 A0.85 0.85 0 1 0 818.15 785.40 A0.85 0.85 0 1 0 819.85 785.40Z" fill="#3e3e46" fill-rule="evenodd"/><path d="M828.54 810.85 L828.74 811.45 L829.55 811.68 L829.55 813.12 L828.74 813.35 L828.54 813.95 L828.25 814.52 L828.67 815.25 L827.65 816.27 L826.92 815.85 L826.35 816.14 L825.75 816.34 L825.52 817.15 L824.08 817.15 L823.85 816.34 L823.25 816.14 L822.68 815.85 L821.95 816.27 L820.93 815.25 L821.35 814.52 L821.06 813.95 L820.86 813.35 L820.05 813.12 L820.05 811.68 L820.86 811.45 L821.06 810.85 L821.35 810.28 L820.93 809.55 L821.95 808.53 L822.68 808.95 L823.25 808.66 L823.85 808.46 L824.08 807.65 L825.52 807.65 L825.75 808.46 L826.35 808.66 L826.92 808.95 L827.65 808.53 L828.67 809.55 L828.25 810.28Z M826.80 812.40 A2.0 2.0 0 1 0 822.80 812.40 A2.0 2.0 0 1 0 826.80 812.40Z" fill="#3e3e46" fill-rule="evenodd"/><path d="M821.26 817.46 L821.38 817.83 L821.92 817.96 L821.92 818.84 L821.38 818.97 L821.26 819.34 L821.09 819.68 L821.38 820.15 L820.75 820.78 L820.28 820.49 L819.94 820.66 L819.57 820.78 L819.44 821.32 L818.56 821.32 L818.43 820.78 L818.06 820.66 L817.72 820.49 L817.25 820.78 L816.62 820.15 L816.91 819.68 L816.74 819.34 L816.62 818.97 L816.08 818.84 L816.08 817.96 L816.62 817.83 L816.74 817.46 L816.91 817.12 L816.62 816.65 L817.25 816.02 L817.72 816.31 L818.06 816.14 L818.43 816.02 L818.56 815.48 L819.44 815.48 L819.57 816.02 L819.94 816.14 L820.28 816.31 L820.75 816.02 L821.38 816.65 L821.09 817.12Z M819.85 818.40 A0.85 0.85 0 1 0 818.15 818.40 A0.85 0.85 0 1 0 819.85 818.40Z" fill="#3e3e46" fill-rule="evenodd"/>
</svg>
<span class="t" style="left:30.27px;top:5px;font-size:18px;line-height:20px;color:#fff;font-style:italic;letter-spacing:-0.661px;">Sensor</span>
<span class="t" style="left:89.34px;top:4px;font-size:18.5px;line-height:21px;color:#fff;font-weight:700;letter-spacing:-1.015px;">AWS EC2 v2</span>
<span class="t" style="left:53.59px;top:30px;font-size:11.5px;line-height:12px;color:#fff;letter-spacing:-0.371px;">OK</span>
<span class="t" style="left:73.84px;top:75px;font-size:13px;line-height:15px;color:#3c3c3c;letter-spacing:-0.019px;">Overview</span>
<span class="t" style="left:196.82px;top:75px;font-size:13px;line-height:15px;color:#505050;letter-spacing:-0.170px;">Live Data</span>
<span class="t" style="left:305.00px;top:75px;font-size:13px;line-height:15px;color:#3c3c3c;font-weight:700;">2</span>
<span class="t" style="left:320.79px;top:75px;font-size:13px;line-height:15px;color:#505050;letter-spacing:0.122px;">days</span>
<span class="t" style="left:399.14px;top:75px;font-size:13px;line-height:15px;color:#3c3c3c;font-weight:700;letter-spacing:1.076px;">30</span>
<span class="t" style="left:419.39px;top:75px;font-size:13px;line-height:15px;color:#505050;letter-spacing:0.088px;">days</span>
<span class="t" style="left:495.84px;top:75px;font-size:13px;line-height:15px;color:#3c3c3c;font-weight:700;letter-spacing:0.325px;">365</span>
<span class="t" style="left:522.69px;top:75px;font-size:13px;line-height:15px;color:#505050;letter-spacing:-0.078px;">days</span>
<span class="t" style="left:620.52px;top:75px;font-size:13px;line-height:15px;color:#505050;letter-spacing:0.092px;">Historic Data</span>
<span class="t" style="left:765.12px;top:75px;font-size:13px;line-height:15px;color:#505050;letter-spacing:0.767px;">Log</span>
<span class="t" style="left:854.53px;top:75px;font-size:13px;line-height:15px;color:#505050;letter-spacing:0.134px;">Settings</span>
<span class="t" style="left:42.91px;top:118px;font-size:13px;line-height:15px;color:#484848;letter-spacing:0.029px;-webkit-text-stroke:0.2px #484848;">CPU Utilization</span>
<span class="t" style="left:42.72px;top:305px;font-size:13px;line-height:15px;color:#484848;letter-spacing:0.181px;-webkit-text-stroke:0.2px #484848;">0,03</span>
<span class="t" style="left:71.60px;top:305px;font-size:13px;line-height:15px;color:#484848;transform:scaleX(0.823);transform-origin:0 0;-webkit-text-stroke:0.2px #484848;">%</span>
<span class="t" style="left:177.12px;top:295px;font-size:13px;line-height:15px;color:#3a3a3a;">0</span>
<span class="t" style="left:188.30px;top:295px;font-size:13px;line-height:15px;color:#3a3a3a;transform:scaleX(0.823);transform-origin:0 0;">%</span>
<span class="t" style="left:274.72px;top:295px;font-size:13px;line-height:15px;color:#3a3a3a;letter-spacing:-0.585px;">6,83</span>
<span class="t" style="left:301.30px;top:295px;font-size:13px;line-height:15px;color:#3a3a3a;transform:scaleX(0.823);transform-origin:0 0;">%</span>
<span class="t" style="left:169.87px;top:277px;font-size:9px;line-height:10px;color:#8c8c99;">x</span>
<span class="t" style="left:350.02px;top:119px;font-size:10.2px;line-height:11px;color:#484848;letter-spacing:-0.043px;-webkit-text-stroke:0.2px #484848;">CPU Credit Balance</span>
<span class="t" style="left:349.63px;top:162px;font-size:10.2px;line-height:11px;color:#484848;letter-spacing:0.724px;-webkit-text-stroke:0.2px #484848;">144 #</span>
<span class="t" style="left:504.02px;top:119px;font-size:10.2px;line-height:11px;color:#484848;letter-spacing:-0.082px;-webkit-text-stroke:0.2px #484848;">CPU Credit Usage</span>
<span class="t" style="left:504.39px;top:162px;font-size:10.2px;line-height:11px;color:#484848;letter-spacing:0.224px;-webkit-text-stroke:0.2px #484848;">0,0019 #</span>
<span class="t" style="left:657.50px;top:119px;font-size:10.2px;line-height:11px;color:#484848;letter-spacing:-0.018px;-webkit-text-stroke:0.2px #484848;">Disk Read</span>
<span class="t" style="left:658.39px;top:162px;font-size:10.2px;line-height:11px;color:#484848;letter-spacing:0.261px;-webkit-text-stroke:0.2px #484848;">0 MB</span>
<span class="t" style="left:349.50px;top:192px;font-size:10.2px;line-height:11px;color:#484848;letter-spacing:-0.040px;-webkit-text-stroke:0.2px #484848;">Disk Read Ops</span>
<span class="t" style="left:350.39px;top:235px;font-size:10.2px;line-height:11px;color:#484848;letter-spacing:0.563px;-webkit-text-stroke:0.2px #484848;">0 #</span>
<span class="t" style="left:503.50px;top:192px;font-size:10.2px;line-height:11px;color:#484848;letter-spacing:0.221px;-webkit-text-stroke:0.2px #484848;">Disk Write</span>
<span class="t" style="left:504.39px;top:235px;font-size:10.2px;line-height:11px;color:#484848;letter-spacing:0.195px;-webkit-text-stroke:0.2px #484848;">0 MB</span>
<span class="t" style="left:657.50px;top:192px;font-size:10.2px;line-height:11px;color:#484848;letter-spacing:0.072px;-webkit-text-stroke:0.2px #484848;">Disk Write Ops</span>
<span class="t" style="left:658.39px;top:235px;font-size:10.2px;line-height:11px;color:#484848;letter-spacing:0.563px;-webkit-text-stroke:0.2px #484848;">0 #</span>
<span class="t" style="left:349.31px;top:265px;font-size:10.2px;line-height:11px;color:#484848;letter-spacing:0.244px;-webkit-text-stroke:0.2px #484848;">Instance Status</span>
<span class="t" style="left:349.85px;top:308px;font-size:10.2px;line-height:11px;color:#484848;letter-spacing:0.323px;-webkit-text-stroke:0.2px #484848;">Passed</span>
<span class="t" style="left:503.49px;top:265px;font-size:10.2px;line-height:11px;color:#484848;letter-spacing:0.325px;-webkit-text-stroke:0.2px #484848;">Network In</span>
<span class="t" style="left:504.39px;top:308px;font-size:10.2px;line-height:11px;color:#484848;letter-spacing:-0.063px;-webkit-text-stroke:0.2px #484848;">0,04 KB</span>
<span class="t" style="left:657.49px;top:265px;font-size:10.2px;line-height:11px;color:#484848;letter-spacing:0.207px;-webkit-text-stroke:0.2px #484848;">Network Out</span>
<span class="t" style="left:658.39px;top:308px;font-size:10.2px;line-height:11px;color:#484848;letter-spacing:-0.046px;-webkit-text-stroke:0.2px #484848;">0,03 KB</span>
<span class="t" style="left:42.58px;top:338px;font-size:10.2px;line-height:11px;color:#484848;letter-spacing:0.153px;-webkit-text-stroke:0.2px #484848;">System Status</span>
<span class="t" style="left:41.95px;top:381px;font-size:10.2px;line-height:11px;color:#484848;letter-spacing:0.343px;-webkit-text-stroke:0.2px #484848;">Passed</span>
<span class="t" style="left:62.81px;top:464px;font-size:13px;line-height:15px;color:#15183a;letter-spacing:-0.066px;-webkit-text-stroke:0.4px #15183a;">Channel</span>
<span class="t" style="left:241.60px;top:464px;font-size:13px;line-height:15px;color:#15183a;letter-spacing:-0.455px;-webkit-text-stroke:0.4px #15183a;">ID</span>
<span class="t" style="left:327.32px;top:464px;font-size:13px;line-height:15px;color:#15183a;letter-spacing:0.463px;-webkit-text-stroke:0.4px #15183a;">Last</span>
<span class="t" style="left:304.85px;top:479px;font-size:13px;line-height:15px;color:#15183a;letter-spacing:0.115px;-webkit-text-stroke:0.4px #15183a;">Value</span>
<span class="t" style="left:479.62px;top:464px;font-size:13px;line-height:15px;color:#15183a;letter-spacing:0.579px;-webkit-text-stroke:0.4px #15183a;">Minimum</span>
<span class="t" style="left:674.62px;top:464px;font-size:13px;line-height:15px;color:#15183a;letter-spacing:0.458px;-webkit-text-stroke:0.4px #15183a;">Maximum</span>
<span class="t" style="left:62.71px;top:512px;font-size:13px;line-height:15px;color:#525252;letter-spacing:-0.189px;">CPU Credit Balance</span>
<span class="t" style="left:263.34px;top:512px;font-size:13px;line-height:15px;color:#525252;">9</span>
<span class="t" style="left:320.18px;top:512px;font-size:13px;line-height:15px;color:#525252;letter-spacing:0.093px;">144 #</span>
<span class="t" style="left:518.18px;top:512px;font-size:13px;line-height:15px;color:#525252;letter-spacing:0.093px;">144 #</span>
<span class="t" style="left:716.28px;top:512px;font-size:13px;line-height:15px;color:#525252;letter-spacing:0.093px;">144 #</span>
<span class="t" style="left:62.71px;top:545px;font-size:13px;line-height:15px;color:#525252;letter-spacing:-0.264px;">CPU Credit Usage</span>
<span class="t" style="left:263.33px;top:545px;font-size:13px;line-height:15px;color:#525252;">8</span>
<span class="t" style="left:302.92px;top:545px;font-size:13px;line-height:15px;color:#525252;letter-spacing:-0.052px;">0,0019 #</span>
<span class="t" style="left:500.92px;top:545px;font-size:13px;line-height:15px;color:#525252;letter-spacing:-0.052px;">0,0016 #</span>
<span class="t" style="left:699.02px;top:545px;font-size:13px;line-height:15px;color:#525252;letter-spacing:-0.052px;">0,3413 #</span>
<span class="t" style="left:62.71px;top:578px;font-size:13px;line-height:15px;color:#525252;letter-spacing:-0.071px;">CPU Utilization</span>
<span class="t" style="left:263.34px;top:578px;font-size:13px;line-height:15px;color:#525252;">1</span>
<span class="t" style="left:344.00px;top:578px;font-size:13px;line-height:15px;color:#525252;transform:scaleX(0.823);transform-origin:0 0;">%</span>
<span class="t" style="left:315.92px;top:578px;font-size:13px;line-height:15px;color:#525252;letter-spacing:-0.086px;">0,03</span>
<span class="t" style="left:542.00px;top:578px;font-size:13px;line-height:15px;color:#525252;transform:scaleX(0.823);transform-origin:0 0;">%</span>
<span class="t" style="left:531.61px;top:578px;font-size:13px;line-height:15px;color:#525252;">0</span>
<span class="t" style="left:740.10px;top:578px;font-size:13px;line-height:15px;color:#525252;transform:scaleX(0.823);transform-origin:0 0;">%</span>
<span class="t" style="left:711.92px;top:578px;font-size:13px;line-height:15px;color:#525252;letter-spacing:-0.052px;">6,83</span>
<span class="t" style="left:62.22px;top:611px;font-size:13px;line-height:15px;color:#525252;letter-spacing:-0.159px;">Disk Read</span>
<span class="t" style="left:263.36px;top:611px;font-size:13px;line-height:15px;color:#525252;">6</span>
<span class="t" style="left:323.02px;top:611px;font-size:13px;line-height:15px;color:#525252;letter-spacing:0.024px;">0 MB</span>
<span class="t" style="left:521.02px;top:611px;font-size:13px;line-height:15px;color:#525252;letter-spacing:0.024px;">0 MB</span>
<span class="t" style="left:719.12px;top:611px;font-size:13px;line-height:15px;color:#525252;letter-spacing:0.024px;">0 MB</span>
<span class="t" style="left:62.22px;top:644px;font-size:13px;line-height:15px;color:#525252;letter-spacing:-0.222px;">Disk Read Ops</span>
<span class="t" style="left:263.16px;top:644px;font-size:13px;line-height:15px;color:#525252;">4</span>
<span class="t" style="left:334.52px;top:644px;font-size:13px;line-height:15px;color:#525252;letter-spacing:0.411px;">0 #</span>
<span class="t" style="left:532.52px;top:644px;font-size:13px;line-height:15px;color:#525252;letter-spacing:0.411px;">0 #</span>
<span class="t" style="left:730.62px;top:644px;font-size:13px;line-height:15px;color:#525252;letter-spacing:0.411px;">0 #</span>
<span class="t" style="left:62.22px;top:677px;font-size:13px;line-height:15px;color:#525252;letter-spacing:0.059px;">Disk Write</span>
<span class="t" style="left:263.36px;top:677px;font-size:13px;line-height:15px;color:#525252;">7</span>
<span class="t" style="left:323.02px;top:677px;font-size:13px;line-height:15px;color:#525252;letter-spacing:0.024px;">0 MB</span>
<span class="t" style="left:521.02px;top:677px;font-size:13px;line-height:15px;color:#525252;letter-spacing:0.024px;">0 MB</span>
<span class="t" style="left:719.12px;top:677px;font-size:13px;line-height:15px;color:#525252;letter-spacing:0.024px;">0 MB</span>
<span class="t" style="left:62.22px;top:710px;font-size:13px;line-height:15px;color:#525252;letter-spacing:-0.051px;">Disk Write Ops</span>
<span class="t" style="left:263.34px;top:710px;font-size:13px;line-height:15px;color:#525252;">5</span>
<span class="t" style="left:334.52px;top:710px;font-size:13px;line-height:15px;color:#525252;letter-spacing:0.411px;">0 #</span>
<span class="t" style="left:532.52px;top:710px;font-size:13px;line-height:15px;color:#525252;letter-spacing:0.411px;">0 #</span>
<span class="t" style="left:730.62px;top:710px;font-size:13px;line-height:15px;color:#525252;letter-spacing:0.411px;">0 #</span>
<span class="t" style="left:62.22px;top:743px;font-size:13px;line-height:15px;color:#525252;letter-spacing:0.304px;">Downtime</span>
<span class="t" style="left:258.26px;top:743px;font-size:13px;line-height:15px;color:#525252;letter-spacing:0.488px;">-4</span>
<span class="t" style="left:62.10px;top:776px;font-size:13px;line-height:15px;color:#525252;letter-spacing:0.125px;">Instance Status</span>
<span class="t" style="left:255.58px;top:776px;font-size:13px;line-height:15px;color:#525252;letter-spacing:0.606px;">10</span>
<span class="t" style="left:309.72px;top:776px;font-size:13px;line-height:15px;color:#525252;letter-spacing:0.084px;">Passed</span>
<span class="t" style="left:507.72px;top:776px;font-size:13px;line-height:15px;color:#525252;letter-spacing:0.084px;">Passed</span>
<span class="t" style="left:705.82px;top:776px;font-size:13px;line-height:15px;color:#525252;letter-spacing:0.084px;">Passed</span>
<span class="t" style="left:62.22px;top:809px;font-size:13px;line-height:15px;color:#525252;letter-spacing:0.157px;">Network In</span>
<span class="t" style="left:263.36px;top:809px;font-size:13px;line-height:15px;color:#525252;">2</span>
<span class="t" style="left:309.02px;top:809px;font-size:13px;line-height:15px;color:#525252;letter-spacing:-0.288px;">0,04 KB</span>
<span class="t" style="left:507.02px;top:809px;font-size:13px;line-height:15px;color:#525252;letter-spacing:-0.288px;">0,03 KB</span>
<span class="t" style="left:696.68px;top:809px;font-size:13px;line-height:15px;color:#525252;letter-spacing:-0.070px;">1.688 KB</span>
<span class="t" style="left:169.5px;top:278px;width:4.6px;height:1px;background:#9a9aa6"></span>
</body></html>
